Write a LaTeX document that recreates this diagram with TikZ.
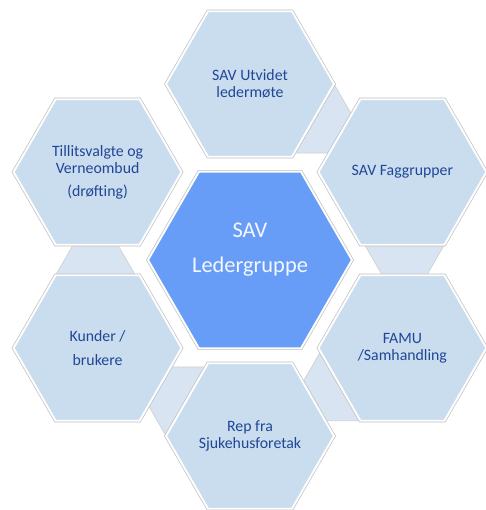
\documentclass[tikz,border=0pt]{standalone}
\usepackage{fontspec}
\setmainfont{Carlito}
\usetikzlibrary{shapes.geometric,calc,backgrounds}
\definecolor{hexblue}{RGB}{201,221,239}
\definecolor{linkblue}{RGB}{216,228,241}
\definecolor{midblue}{RGB}{104,157,247}
\definecolor{txtblue}{RGB}{33,70,150}

\begin{document}
\begin{tikzpicture}[x=0.02cm, y=0.02cm, outer sep=0pt,
  hex/.style={regular polygon, regular polygon sides=6, minimum size=3.36cm, inner sep=0pt,
    fill=hexblue, draw=white, line width=1.1pt, preaction={draw=black!25, line width=1.9pt},
    text=txtblue, align=center, font=\fontsize{9}{9.7}\selectfont},
  mid/.style={hex, minimum size=4.08cm, fill=midblue, text=white!92!midblue,
    font=\fontsize{12.75}{14}\selectfont, text depth=14pt},
  link/.style={fill=linkblue, draw=black!18, line width=0.4pt}]

\useasboundingbox (-250,-250) rectangle (236,260);

\node[mid] at (0,0) (led) {SAV\\[6.4pt]Ledergruppe};
\node[hex] at (90:176) (utv) {SAV Utvidet\\ledermøte};
\node[hex] at (30:176) (fag) {SAV Faggrupper};
\node[hex] at (-30:176) (famu) {FAMU\\/Samhandling};
\node[hex] at (-90:176) (rep) {Rep fra\\Sjukehusforetak};
\node[hex] at (-150:176) (kun) {Kunder /\\[4pt]brukere};
\node[hex] at (150:176) (till) {Tillitsvalgte og\\Verneombud\\[3.4pt](drøfting)};

\begin{scope}[on background layer]
\draw[link] ($(utv.300)!0.05!(utv.0)$) -- (utv.0) -- ($(utv.60)!1.8!(utv.0)$)
  -- ($1.75*(utv.300)+0.05*(utv.0)-0.8*(utv.240)$) -- cycle;
\draw[link] ($(fag.240)!0.05!(fag.300)$) -- (fag.300) -- ($(fag.0)!1.8!(fag.300)$)
  -- ($1.75*(fag.240)+0.05*(fag.300)-0.8*(fag.180)$) -- cycle;
\draw[link] ($(famu.180)!0.05!(famu.240)$) -- (famu.240) -- ($(famu.300)!1.8!(famu.240)$)
  -- ($1.75*(famu.180)+0.05*(famu.240)-0.8*(famu.120)$) -- cycle;
\draw[link] ($(rep.120)!0.05!(rep.180)$) -- (rep.180) -- ($(rep.240)!1.8!(rep.180)$)
  -- ($1.75*(rep.120)+0.05*(rep.180)-0.8*(rep.60)$) -- cycle;
\draw[link] ($(kun.60)!0.05!(kun.120)$) -- (kun.120) -- ($(kun.180)!1.8!(kun.120)$)
  -- ($1.75*(kun.60)+0.05*(kun.120)-0.8*(kun.0)$) -- cycle;
\end{scope}
\end{tikzpicture}
\end{document}
